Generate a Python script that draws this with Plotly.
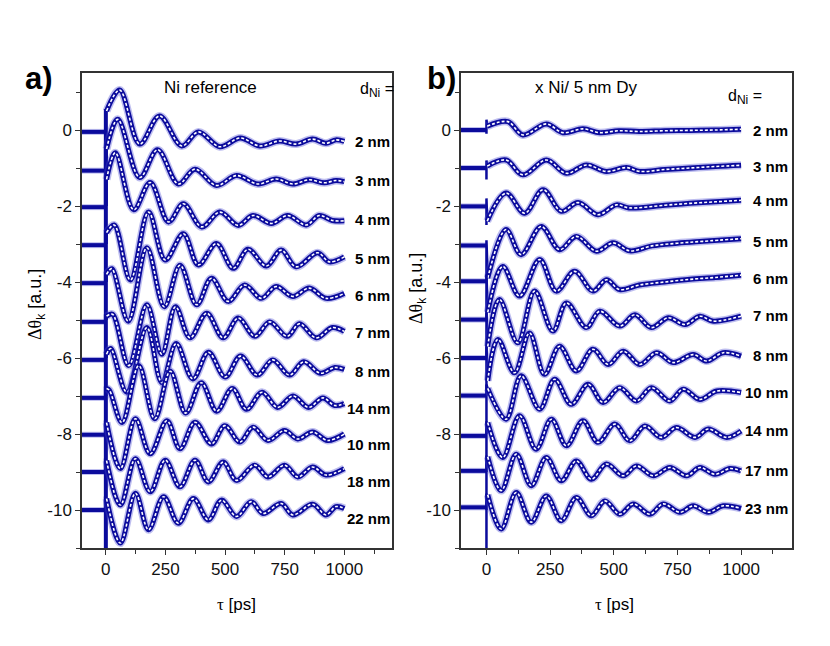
import plotly.graph_objects as go

# ---------------- data ----------------
A_LABELS = ["2 nm", "3 nm", "4 nm", "5 nm", "6 nm", "7 nm", "8 nm", "14 nm", "10 nm", "18 nm", "22 nm"]
A_BASE = [-0.05, -1.07, -2.03, -3.03, -4.03, -5.05, -6.05, -7.05, -8.02, -9.0, -10.0]
A_SPIKE_LO = [-1.0, -2.0, -3.0, -4.0, -5.0, -6.0, -7.0, -8.0, -9.0, -10.0, -11.2]
A_LABEL_Y = [-0.31, -1.33, -2.35, -3.37, -4.36, -5.33, -6.35, -7.34, -8.28, -9.25, -10.22]

a2_t = [3, 58, 142, 225, 318, 388, 478, 564, 645, 728, 798, 867, 923, 965, 1000]
a2_y = [0.5, 1.05, -0.37, 0.37, -0.42, -0.05, -0.44, -0.21, -0.42, -0.29, -0.37, -0.24, -0.35, -0.26, -0.30]
a3_t = [3, 50, 142, 217, 304, 374, 464, 548, 638, 714, 784, 853, 916, 965, 1000]
a3_y = [-0.5, 0.28, -1.25, -0.52, -1.42, -1.03, -1.46, -1.20, -1.42, -1.29, -1.42, -1.31, -1.39, -1.33, -1.36]
a4_t = [3, 40, 117, 186, 263, 325, 402, 478, 555, 617, 694, 763, 840, 895, 950, 1000]
a4_y = [-1.3, -0.6, -2.1, -1.38, -2.42, -1.94, -2.55, -2.16, -2.51, -2.25, -2.46, -2.25, -2.5, -2.25, -2.38, -2.39]
a5_t = [3, 35, 103, 179, 249, 325, 388, 464, 534, 596, 673, 735, 798, 888, 937, 1000]
a5_y = [-2.7, -2.5, -3.95, -2.16, -3.42, -2.73, -3.55, -2.99, -3.64, -3.14, -3.58, -3.16, -3.6, -3.23, -3.47, -3.34]
a6_t = [3, 25, 94, 172, 245, 311, 381, 443, 513, 582, 652, 714, 784, 853, 923, 1000]
a6_y = [-3.8, -3.65, -5.03, -3.1, -4.65, -3.56, -4.6, -3.9, -4.51, -4.08, -4.43, -4.12, -4.38, -4.16, -4.43, -4.3]
a7_t = [3, 28, 96, 172, 235, 292, 353, 423, 492, 555, 625, 687, 760, 812, 882, 950, 1000]
a7_y = [-4.9, -4.85, -6.2, -4.6, -5.9, -4.65, -5.47, -4.82, -5.47, -4.95, -5.43, -5.05, -5.43, -5.1, -5.47, -5.2, -5.3]
a8_t = [3, 20, 88, 172, 235, 295, 365, 430, 500, 565, 635, 700, 770, 830, 900, 960, 1000]
a8_y = [-5.9, -5.75, -6.9, -5.2, -6.65, -5.62, -6.55, -5.85, -6.5, -5.95, -6.45, -6.05, -6.45, -6.1, -6.4, -6.25, -6.3]
a14_t = [3, 15, 68, 138, 205, 270, 335, 400, 465, 530, 590, 655, 720, 785, 850, 910, 960, 1000]
a14_y = [-6.8, -6.85, -7.7, -6.2, -7.6, -6.35, -7.45, -6.65, -7.4, -6.8, -7.35, -6.9, -7.3, -7.0, -7.3, -7.05, -7.25, -7.2]
a10_t = [3, 61, 124, 186, 256, 311, 374, 443, 499, 562, 617, 680, 749, 805, 867, 930, 1000]
a10_y = [-7.7, -8.91, -7.6, -8.52, -7.65, -8.39, -7.69, -8.26, -7.78, -8.21, -7.82, -8.17, -7.91, -8.13, -7.95, -8.17, -8.0]
a18_t = [3, 61, 124, 186, 249, 311, 374, 430, 492, 548, 624, 680, 749, 805, 867, 923, 1000]
a18_y = [-8.7, -9.87, -8.65, -9.52, -8.69, -9.39, -8.69, -9.26, -8.74, -9.22, -8.82, -9.13, -8.82, -9.13, -8.87, -9.08, -8.91]
a22_t = [3, 61, 124, 179, 242, 304, 367, 430, 485, 548, 610, 659, 735, 784, 867, 923, 965, 1000]
a22_y = [-9.7, -10.87, -9.56, -10.52, -9.65, -10.35, -9.7, -10.26, -9.74, -10.17, -9.78, -10.09, -9.83, -10.13, -9.85, -10.13, -9.91, -9.96]

B_LABELS = ["2 nm", "3 nm", "4 nm", "5 nm", "6 nm", "7 nm", "8 nm", "10 nm", "14 nm", "17 nm", "23 nm"]
B_BASE = [0.0, -1.0, -2.01, -3.04, -3.98, -4.99, -6.0, -6.99, -8.05, -8.97, -9.93]
B_SPIKE_LO = [-0.1, -1.3, -2.5, -4.0, -5.0, -6.0, -7.0, -8.0, -9.0, -10.0, -11.2]
B_SPIKE_HI = [0.27, -0.8, -1.8, -2.9, -3.8, -4.8, -5.7, -6.7, -7.7, -8.6, -9.6]
B_LABEL_Y = [0.0, -0.97, -1.86, -2.93, -3.9, -4.87, -5.94, -6.91, -7.91, -8.96, -9.96]

b2_t = [3, 84, 143, 235, 300, 379, 445, 520, 600, 700, 800, 900, 1000]
b2_y = [0.1, 0.22, -0.13, 0.16, -0.07, 0.03, -0.07, -0.02, -0.04, -0.02, -0.01, 0.0, 0.02]
b3_t = [3, 77, 143, 235, 314, 392, 471, 550, 602, 700, 800, 900, 1000]
b3_y = [-0.95, -0.79, -1.18, -0.79, -1.14, -0.92, -1.09, -0.99, -1.09, -1.04, -1.0, -0.96, -0.93]
b4_t = [3, 77, 150, 222, 294, 360, 438, 510, 560, 700, 800, 900, 1000]
b4_y = [-2.4, -1.66, -2.19, -1.57, -2.14, -1.91, -2.23, -1.97, -2.05, -1.98, -1.93, -1.89, -1.85]
b5_t = [5, 77, 136, 215, 287, 353, 432, 497, 563, 650, 750, 850, 1000]
b5_y = [-3.9, -2.62, -3.28, -2.54, -3.15, -2.8, -3.19, -2.97, -3.18, -3.05, -2.98, -2.93, -2.86]
b6_t = [5, 64, 130, 209, 274, 346, 418, 471, 523, 600, 700, 800, 900, 1000]
b6_y = [-4.8, -3.59, -4.37, -3.41, -4.24, -3.72, -4.24, -3.94, -4.2, -4.08, -4.0, -3.93, -3.88, -3.82]
b7_t = [5, 51, 123, 189, 261, 314, 392, 445, 524, 583, 648, 714, 780, 838, 891, 1000]
b7_y = [-5.7, -4.46, -5.6, -4.24, -5.29, -4.55, -5.2, -4.77, -5.16, -4.86, -5.2, -4.94, -5.12, -4.9, -5.03, -4.9]
b8_t = [5, 45, 110, 169, 228, 287, 353, 418, 478, 537, 602, 668, 733, 812, 865, 930, 1000]
b8_y = [-6.6, -5.51, -6.39, -5.34, -6.43, -5.69, -6.34, -5.77, -6.17, -5.82, -6.17, -5.86, -6.12, -5.91, -6.08, -5.86, -5.95]
b10_t = [5, 77, 136, 209, 268, 333, 399, 458, 523, 589, 648, 720, 773, 838, 904, 1000]
b10_y = [-6.8, -7.61, -6.47, -7.35, -6.56, -7.22, -6.69, -7.17, -6.78, -7.13, -6.78, -7.13, -6.82, -7.09, -6.87, -6.91]
b14_t = [5, 64, 130, 195, 255, 314, 379, 438, 504, 563, 622, 687, 746, 819, 871, 943, 1000]
b14_y = [-7.7, -8.62, -7.52, -8.4, -7.61, -8.31, -7.65, -8.22, -7.74, -8.18, -7.79, -8.09, -7.83, -8.09, -7.87, -8.09, -7.92]
b17_t = [5, 58, 117, 176, 235, 294, 353, 412, 471, 537, 589, 655, 720, 786, 838, 897, 956, 1000]
b17_y = [-8.6, -9.49, -8.53, -9.36, -8.62, -9.23, -8.71, -9.19, -8.79, -9.1, -8.84, -9.1, -8.88, -9.1, -8.88, -9.06, -8.91, -8.97]
b23_t = [5, 58, 117, 176, 235, 294, 353, 412, 465, 524, 576, 642, 694, 760, 812, 871, 930, 1000]
b23_y = [-9.6, -10.5, -9.54, -10.32, -9.63, -10.28, -9.67, -10.15, -9.76, -10.11, -9.84, -10.11, -9.84, -10.06, -9.89, -10.06, -9.89, -9.96]

A_T = [a2_t, a3_t, a4_t, a5_t, a6_t, a7_t, a8_t, a14_t, a10_t, a18_t, a22_t]
A_Y = [a2_y, a3_y, a4_y, a5_y, a6_y, a7_y, a8_y, a14_y, a10_y, a18_y, a22_y]
B_T = [b2_t, b3_t, b4_t, b5_t, b6_t, b7_t, b8_t, b10_t, b14_t, b17_t, b23_t]
B_Y = [b2_y, b3_y, b4_y, b5_y, b6_y, b7_y, b8_y, b10_y, b14_y, b17_y, b23_y]

X_TICKS = [0, 250, 500, 750, 1000]
Y_TICKS = [0, -2, -4, -6, -8, -10]
Y_TICKTEXT = ["0", "-2", "-4", "-6", "-8", "-10"]

# ---------------- styling ----------------
OFF = 8                      # page margin of the html body
W, H = 830 - OFF, 646 - OFF  # figure size so that it fills the window
BLUE = "#0b0b9c"
HALO = "rgba(70,70,210,0.35)"
FONT = "Liberation Sans, Arial, sans-serif"
SERIF = "Liberation Serif, Times New Roman, serif"

fig = go.Figure()


def add_panel(T, Y, base, lo, hi, xa, ya, bar_w):
    for i in range(len(T)):
        top = hi[i] if hi is not None else Y[i][0]
        for col, w in ((HALO, 6), (BLUE, 4)):
            fig.add_trace(go.Scatter(x=[-100, 0], y=[base[i], base[i]], mode="lines",
                                     xaxis=xa, yaxis=ya, line=dict(color=col, width=w),
                                     hoverinfo="skip", showlegend=False))
        fig.add_trace(go.Scatter(x=[0, 0, 0, T[i][0]], y=[base[i], lo[i], top, Y[i][0]],
                                 mode="lines", xaxis=xa, yaxis=ya,
                                 line=dict(color=BLUE, width=bar_w),
                                 hoverinfo="skip", showlegend=False))
        for col, w in ((HALO, 8), (BLUE, 5)):
            fig.add_trace(go.Scatter(x=T[i], y=Y[i], mode="lines", xaxis=xa, yaxis=ya,
                                     line=dict(color=col, width=w, shape="spline", smoothing=1.0),
                                     hoverinfo="skip", showlegend=False))
        fig.add_trace(go.Scatter(x=T[i], y=Y[i], mode="lines", xaxis=xa, yaxis=ya,
                                 line=dict(color="white", width=1.6, dash="3px,2px",
                                           shape="spline", smoothing=1.0),
                                 hoverinfo="skip", showlegend=False))


add_panel(A_T, A_Y, A_BASE, A_SPIKE_LO, None, "x", "y", 4)
add_panel(B_T, B_Y, B_BASE, B_SPIKE_LO, B_SPIKE_HI, "x2", "y2", 2.5)

# plot-area geometry in window pixels
A_L, A_R = 82, 392
B_L, B_R = 461, 792
P_T, P_B = 73, 548


def fx(px):
    return (px - OFF) / W


def fy(py):
    return 1 - (py - OFF) / H


axis_common = dict(showgrid=False, zeroline=False, showline=True, mirror=True,
                   linecolor="#333333", linewidth=1.5, ticks="outside", ticklen=5,
                   tickwidth=1.2, tickcolor="#333333",
                   tickfont=dict(family=FONT, size=17, color="#111111"))

xa_common = dict(axis_common, range=[-100, 1200], tickvals=X_TICKS,
                 minor=dict(dtick=125, tick0=0, ticks="outside", ticklen=4, tickcolor="#333333"))
ya_common = dict(axis_common, range=[-11, 1.5], tickvals=Y_TICKS, ticktext=Y_TICKTEXT,
                 minor=dict(dtick=1, tick0=0, ticks="outside", ticklen=4, tickcolor="#333333"))

ydom = [fy(P_B), fy(P_T)]
fig.update_layout(
    width=W, height=H, margin=dict(l=0, r=0, t=0, b=0, autoexpand=False),
    paper_bgcolor="white", plot_bgcolor="white", showlegend=False,
    xaxis=dict(xa_common, domain=[fx(A_L), fx(A_R)], anchor="y"),
    yaxis=dict(ya_common, domain=ydom, anchor="x"),
    xaxis2=dict(xa_common, domain=[fx(B_L), fx(B_R)], anchor="y2"),
    yaxis2=dict(ya_common, domain=ydom, anchor="x2"),
)


def px_ann(text, x, y, size=14, bold=False, xanchor="center", angle=0, family=FONT):
    fig.add_annotation(text=f"<b>{text}</b>" if bold else text, x=fx(x), y=fy(y),
                       xref="paper", yref="paper", showarrow=False, xanchor=xanchor,
                       yanchor="middle", textangle=angle,
                       font=dict(family=family, size=size, color="black"))


def sub(txt, size):
    return f"<sub><span style='font-size:{size}px'>{txt}</span></sub>"


px_ann("a)", 39, 78, size=31, bold=True)
px_ann("b)", 441, 78, size=31, bold=True)
px_ann("Ni reference", 210, 87, size=17)
px_ann("x Ni/ 5 nm Dy", 586, 87, size=17)
px_ann("d" + sub("Ni", 12) + " =", 358, 90, size=16, xanchor="left")
px_ann("d" + sub("Ni", 12) + " =", 726, 97, size=16, xanchor="left")

ytitle = (f"<span style='font-family:{SERIF};font-size:18px'>Δθ</span>"
          + sub("k", 12) + " [a.u.]")
xtitle = f"<span style='font-family:{SERIF};font-size:17px'>τ</span> [ps]"
px_ann(ytitle, 37, 305, size=18, angle=-90)
px_ann(ytitle, 417, 289, size=18, angle=-90)
px_ann(xtitle, 236, 604, size=17)
px_ann(xtitle, 614, 604, size=17)

for lab, ly in zip(A_LABELS, A_LABEL_Y):
    fig.add_annotation(text=f"<b>{lab}</b>", x=1.0, xref="x domain", y=ly, yref="y",
                       xanchor="right", yanchor="middle", showarrow=False,
                       font=dict(family=FONT, size=15, color="black"))
for lab, ly in zip(B_LABELS, B_LABEL_Y):
    fig.add_annotation(text=f"<b>{lab}</b>", x=0.995, xref="x2 domain", y=ly, yref="y2",
                       xanchor="right", yanchor="middle", showarrow=False,
                       font=dict(family=FONT, size=15, color="black"))

fig.write_html("out.html")
